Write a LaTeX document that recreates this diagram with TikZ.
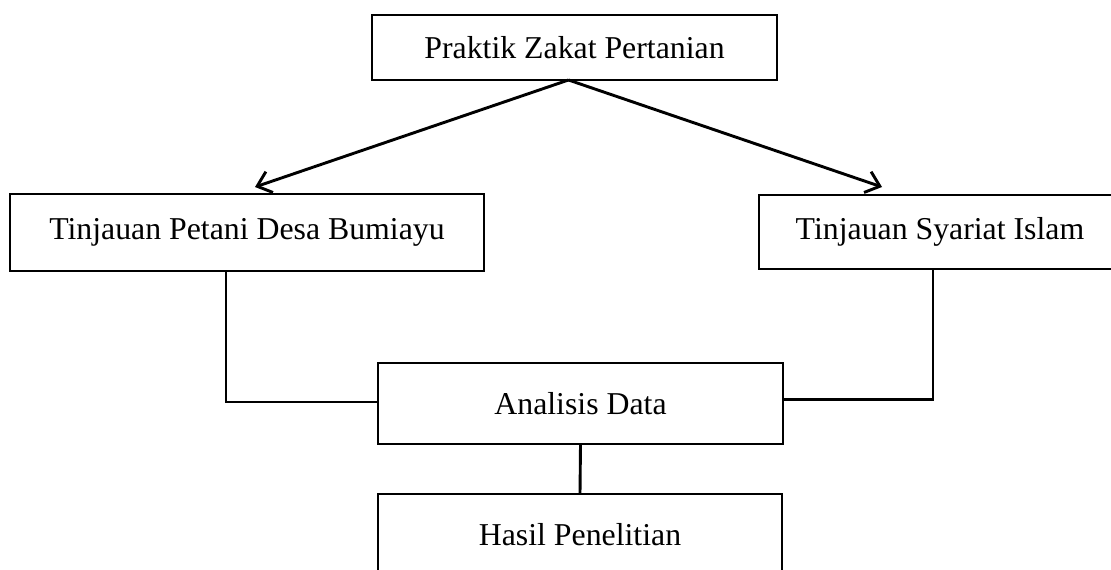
\documentclass[tikz,border=0pt]{standalone}
\usepackage{fontspec}
\setmainfont{Liberation Serif}
\usetikzlibrary{arrows.meta}
\begin{document}
\begin{tikzpicture}[x=1pt,y=-1pt,
  box/.style={draw, line width=2.9pt, rectangle, inner sep=0pt, outer sep=0pt, font=\fontsize{31.8}{38}\selectfont},
  conn/.style={line width=2.9pt},
  arr/.style={line width=2.9pt, -{Straight Barb[length=13pt,width=22pt,line width=2.9pt]}}]
\useasboundingbox (0,0) rectangle (1111,570);
\node[box, minimum width=405pt, minimum height=65pt] (top) at (574.5,47.5) {Praktik Zakat Pertanian};
\node[box, minimum width=474pt, minimum height=77pt] (left) at (247,232.5) {Tinjauan Petani Desa Bumiayu};
\node[box, minimum width=362pt, minimum height=74pt] (right) at (940,232) {Tinjauan Syariat Islam};
\node[box, minimum width=405pt, minimum height=81pt] (ana) at (580.5,403.5) {Analisis Data};
\node[box, minimum width=404pt, minimum height=81pt] (hasil) at (580,534.5) {Hasil Penelitian};
\draw[arr] ([xshift=-6pt]top.south) -- ([xshift=8pt,yshift=7pt]left.north);
\draw[arr] ([xshift=-6pt]top.south) -- ([xshift=-58pt,yshift=8pt]right.north);
\draw[conn] ([xshift=-21pt]left.south) |- ([yshift=1.5pt]ana.west);
\draw[conn] ([xshift=-7pt]right.south) |- ([yshift=4pt]ana.east);
\draw[conn] (ana.south) -- (hasil.north);
\end{tikzpicture}
\end{document}
